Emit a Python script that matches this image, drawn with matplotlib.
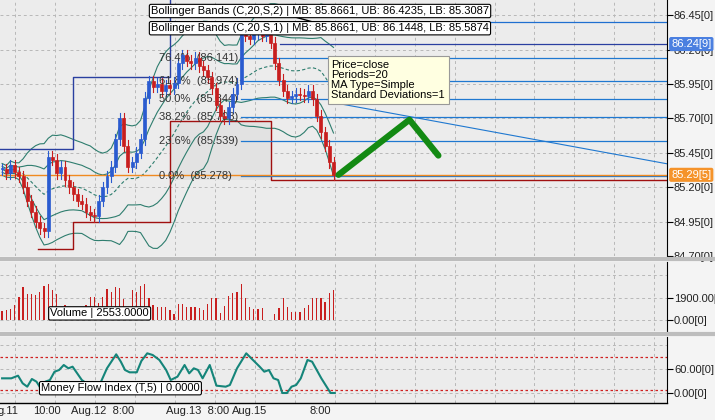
import matplotlib
matplotlib.use("Agg")
import matplotlib.pyplot as plt
import numpy as np
import pandas as pd
from matplotlib.patches import Rectangle

plt.rcParams["font.family"] = ["Liberation Sans", "DejaVu Sans"]

# ---- data ----
closes = [85.33, 85.30, 85.36, 85.31, 85.28, 85.20, 85.10, 85.02, 84.95, 84.90, 84.88,
          85.42, 85.40, 85.30, 85.35, 85.25, 85.20, 85.15, 85.10, 85.08, 85.02, 85.00, 84.99,
          85.10, 85.20, 85.28, 85.35, 85.55, 85.70, 85.50, 85.35, 85.38, 85.45, 85.55,
          85.85, 85.97, 85.93, 85.95, 85.90, 85.94, 85.92, 85.96, 86.10, 86.16,
          86.12, 86.10, 86.14, 86.08, 86.05, 86.00, 85.92, 85.80, 85.72, 85.70,
          85.78, 85.88, 85.95, 86.35, 86.30, 86.28, 86.32, 86.36, 86.30, 86.33, 86.25,
          86.10, 85.98, 85.90, 85.85, 85.86, 85.88, 85.87, 85.86, 85.90, 85.84,
          85.72, 85.60, 85.50, 85.38, 85.29]
volume = [730, 800, 950, 1240, 1970, 2830, 2190, 2190, 2120, 2390, 2850, 3060, 2540, 2190,
          1100, 1240, 950, 950, 1100, 1100, 1240, 1970, 1970, 1460, 1970, 2630, 2410, 2770,
          2700, 1750, 1020, 2560, 2410, 2850, 3060, 1830, 1240, 1100, 1100, 1100, 880, 510,
          1390, 1310, 1100, 1100, 1100, 1020, 800, 1390, 1830, 1830, 580, 1170, 2040, 2260,
          2340, 3060, 1900, 1100, 950, 950, 1020, 0, 0, 510, 1020, 1830, 1100, 660, 660, 660,
          1020, 1240, 1830, 1830, 1830, 1530, 2260, 2553]
mfi_x = [0, 2.2, 3.8, 4.9, 6, 7.1, 8.2, 9.2, 10.3, 11.4, 12.5, 13.6, 14.7, 15.8, 16.8, 17.9,
         19, 20.1, 21.7, 23.4, 25, 27.2, 28.3, 29.3, 30.4, 32.1, 33.2, 34.6, 35.9, 37.5, 39.1,
         40.2, 41.8, 43.5, 44.6, 45.7, 46.7, 47.8, 49.5, 51.1, 53.3, 54.3, 56, 58.2, 59.8,
         61.4, 62.5, 63.6, 64.7, 65.8, 66.8, 67.9, 69, 70.1, 71.2, 72.8, 73.9, 75, 76.1, 78.3, 79.3]
mfi = [36.7, 36.7, 43.3, 24.2, 15.8, 35, 28.3, 11.7, 28.3, 32.5, 53.3, 57.5, 70, 61.7, 65.8,
       49.2, 32.5, 24.2, 11.7, 24.2, 61.7, 96.7, 78.3, 57.5, 51.7, 51.7, 80, 99.2, 95, 82.5,
       57.5, 32.5, 40.8, 70, 49.2, 61.7, 57.5, 36.7, 70, 18.3, 15.8, 20, 61.7, 99.2, 82.5,
       65.8, 53.3, 57.5, 36.7, 32.5, 0, 0, 15.8, 20, 36.7, 82.5, 78.3, 57.5, 36.7, 0, 0]
fib_pct = ["0.0%", "23.6%", "38.2%", "50.0%", "61.8%", "76.4%"]
fib_val = [85.278, 85.539, 85.708, 85.844, 85.974, 86.141]
price_ticks = [84.70, 84.95, 85.20, 85.45, 85.70, 85.95, 86.20, 86.45]
arrow_x = [80.2, 97.1, 104]
arrow_y = [85.29, 85.69, 85.43]
blue_step_x = [-1, 17, 17, 40, 40]
blue_step_y = [85.48, 85.48, 86.00, 86.00, 86.60]
red_step_x = [8.5, 17, 17, 40, 40, 64, 64, 160]
red_step_y = [84.75, 84.75, 84.95, 84.95, 85.68, 85.68, 85.25, 85.25]
xlabels = ["g.11", "10:00", "Aug.12  8:00", "Aug.13  8:00", "Aug.15", "8:00"]
xlabel_px = [8, 47, 103, 198, 250, 320]

W, H = 715, 420
BG = "#ececec"
fig = plt.figure(figsize=(W / 100, H / 100), dpi=100, facecolor="#f4f4f4")
PW = 667 / W


def axes_px(top, bottom):
    return fig.add_axes([0, 1 - bottom / H, PW, (bottom - top) / H], facecolor=BG)


ax = axes_px(0, 256)
axv = axes_px(262, 331)
axm = axes_px(337, 403)
# panel separators
for y in (259, 334):
    fig.add_artist(plt.Line2D([0, 1], [1 - y / H] * 2, color="#bdbdbd", lw=3))

n = len(closes)
xr = (-0.5, 158.5)
grid_bars = [(13 + 40 * k) / 4.2 for k in range(17)]
for a in (ax, axv, axm):
    a.set_xlim(*xr)
    for g in grid_bars:
        a.axvline(g, color="#b8b8b8", ls=(0, (3, 3)), lw=0.7, zorder=0)
    a.set_xticks([])
    for s in ("top", "left", "bottom"):
        a.spines[s].set_visible(False)
    a.spines["right"].set_color("black")
    a.yaxis.tick_right()
    a.tick_params(axis="y", direction="out", length=4, labelsize=8, pad=1, labelcolor="#222222")

# ---- price panel ----
ax.set_ylim(84.70, 86.56)
ax.set_yticks(price_ticks)
ax.set_yticklabels([f"{v:.2f}[0]" for v in price_ticks])
for v in price_ticks:
    ax.axhline(v, color="#b8b8b8", ls=(0, (3, 3)), lw=0.7, zorder=0)

c = pd.Series(closes)
mb = c.rolling(20, min_periods=1).mean()
sd = c.rolling(20, min_periods=2).std().bfill()
idx = np.arange(n)
for k in (1, 2):
    ax.plot(idx, mb + k * sd, color="#2e7d6e", lw=0.8)
    ax.plot(idx, mb - k * sd, color="#2e7d6e", lw=0.8)
ax.plot(idx, mb, color="#2e7d6e", lw=0.8, ls=(0, (3, 2)))

ax.add_patch(Rectangle((40, 85.25), 24, 0.43, facecolor="#e2e2e2", edgecolor="none", zorder=0.5))
ax.plot(blue_step_x, blue_step_y, color="#2a3fa0", lw=1)
ax.plot(red_step_x, red_step_y, color="#a01010", lw=1)
ax.axhline(86.40, xmin=0.53, color="#1f6fd0", lw=0.9)
ax.axhline(86.24, xmin=0.42, color="#2a3fa0", lw=0.9)
for p, v in zip(fib_pct, fib_val):
    ax.plot([57, xr[1]], [v, v], color="#1f78d0", lw=0.9)
    ax.text(37.5, v, f"{p}  ({v:.3f})", fontsize=8, color="#333333", va="center", ha="left")
ax.axhline(85.29, color="#f08a20", lw=1)
ax.plot([78, xr[1]], [85.82, 85.37], color="#1f78d0", lw=0.8)

opens = [closes[0]] + closes[:-1]
for i, (o, cl) in enumerate(zip(opens, closes)):
    col = "#2a5bd0" if cl >= o else "#c81e1e"
    hi, lo = max(o, cl) + 0.04, min(o, cl) - 0.04
    ax.plot([i, i], [lo, hi], color=col, lw=0.8)
    ax.add_patch(Rectangle((i - 0.35, min(o, cl)), 0.7, max(abs(cl - o), 0.006),
                           facecolor=col, edgecolor=col, lw=0.5, zorder=3))

ax.plot(arrow_x, arrow_y, color="#138a13", lw=4.5, solid_capstyle="round", zorder=5)

# legend callouts
ax.plot([60, 80], [86.52, 86.35], color="black", lw=1)
for yy, txt in ((86.48, "Bollinger Bands (C,20,S,2) | MB: 85.8661, UB: 86.4235, LB: 85.3087"),
                (86.355, "Bollinger Bands (C,20,S,1) | MB: 85.8661, UB: 86.1448, LB: 85.5874")):
    ax.text(35.5, yy, txt, fontsize=8, va="center", ha="left", zorder=6,
            bbox=dict(boxstyle="round,pad=0.15", fc="white", ec="black", lw=0.8))
ax.text(78.5, 85.98, "Price=close\nPeriods=20\nMA Type=Simple\nStandard Deviations=1",
        fontsize=8, va="center", ha="left", zorder=6, linespacing=1.0,
        bbox=dict(boxstyle="square,pad=0.35", fc="#ffffe1", ec="#999999", lw=0.8))

# price flags on the axis
for v, txt, fc in ((86.24, "86.24[9]", "#4a7fe0"), (85.29, "85.29[5]", "#f5932a")):
    ax.text(xr[1] + 1.0, v, txt, fontsize=8, color="white", va="center", ha="left",
            bbox=dict(boxstyle="round,pad=0.12", fc=fc, ec=fc), clip_on=False, zorder=7)

# ---- volume panel ----
axv.set_ylim(-950, 4925)
axv.set_yticks([0, 1900])
axv.set_yticklabels(["0.00[0]", "1900.00["])
for v in (0, 1900, 3800):
    axv.axhline(v, color="#b8b8b8", ls=(0, (3, 3)), lw=0.7, zorder=0)
axv.bar(idx, volume, width=0.3, color="#c81e1e")
axv.text(11.5, 550, "Volume | 2553.0000", fontsize=8, va="center", zorder=6,
         bbox=dict(boxstyle="round,pad=0.15", fc="white", ec="black", lw=0.8))

# ---- MFI panel ----
axm.set_ylim(-25, 140)
axm.set_yticks([0, 60])
axm.set_yticklabels(["0.00[0]", "60.00[0]"])
for v in (0, 60, 120):
    axm.axhline(v, color="#b8b8b8", ls=(0, (3, 3)), lw=0.7, zorder=0)
for v in (7.5, 90):
    axm.axhline(v, color="#d02020", ls=(0, (2, 2)), lw=0.9)
axm.plot(mfi_x, mfi, color="#15857a", lw=1.5)
axm.text(9.3, 12, "Money Flow Index (T,5) | 0.0000", fontsize=8, va="center", zorder=6,
         bbox=dict(boxstyle="round,pad=0.15", fc="white", ec="black", lw=0.8))

fig.add_artist(plt.Line2D([0, PW], [1 - 403 / H] * 2, color="black", lw=1))
for t, px in zip(xlabels, xlabel_px):
    fig.text(px / W, 1 - 411 / H, t, fontsize=8, ha="center", va="center", color="#222222")

fig.savefig("out.png", dpi=100, facecolor=fig.get_facecolor())
